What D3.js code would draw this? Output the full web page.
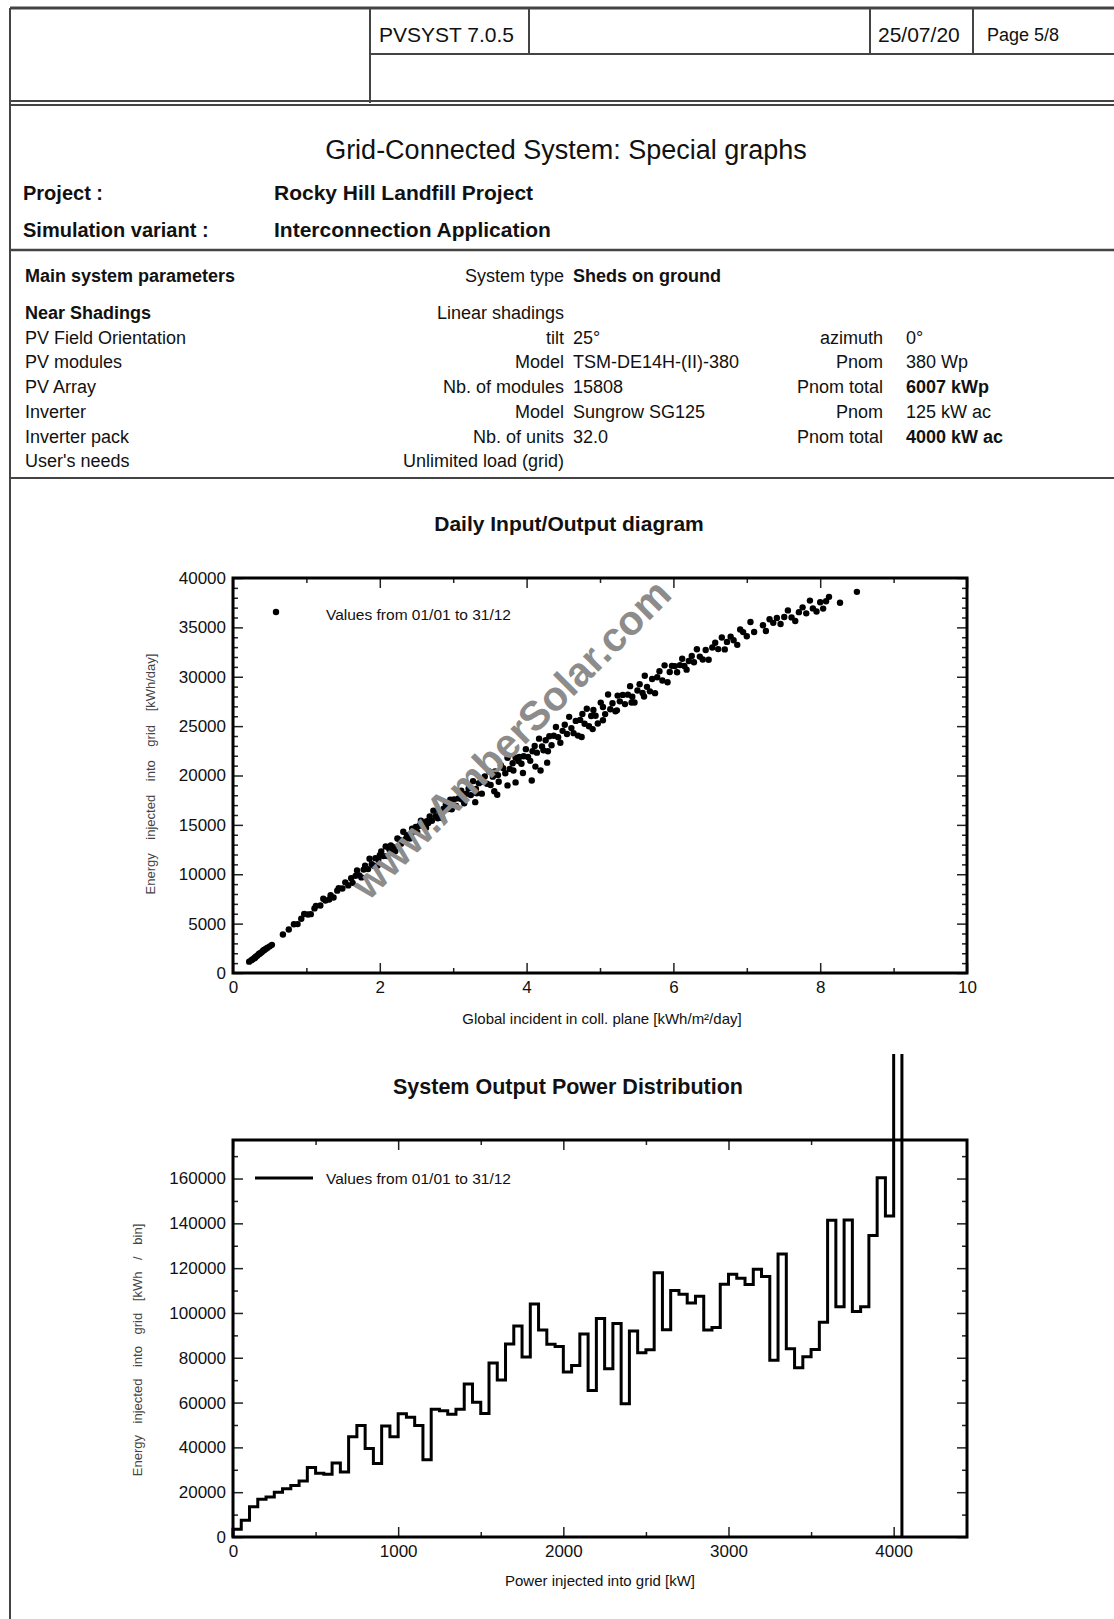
<!DOCTYPE html>
<html>
<head>
  <meta charset="utf-8">
  <title>PVsyst special graphs</title>
  <script src="https://d3js.org/d3.v7.min.js"></script>
  <style>
    body { margin: 0; background: #fff; }
    text { font-family: "Liberation Sans", Arial, sans-serif; fill: #111; }
  </style>
</head>
<body>
<script>
// ---- daily input/output : [global incident kWh/m2/day, energy injected kWh/day]
var dailyPoints = [
  [0.22,1150],[0.25,1300],[0.27,1400],[0.29,1500],[0.30,1550],[0.31,1650],[0.33,1750],[0.35,1900],
  [0.36,1950],[0.37,2000],[0.39,2100],[0.41,2250],[0.42,2300],[0.43,2350],[0.45,2450],[0.47,2550],
  [0.50,2700],[0.53,2850],[0.68,3900],[0.76,4400],
  [0.83,4930],[0.88,4950],[0.93,5500],[0.97,5970],[1.02,5930],[1.06,5960],[1.11,6540],[1.13,6800],
  [1.19,6840],[1.23,7520],[1.26,7330],[1.31,7440],[1.33,7870],[1.37,7640],[1.42,8340],[1.44,8590],
  [1.49,8560],[1.53,9180],[1.57,8870],
  [1.61,9600],[1.63,9130],[1.67,9840],[1.69,10380],[1.72,9890],[1.75,9680],[1.78,10470],[1.80,10870],
  [1.84,10520],[1.86,11570],[1.89,11030],[1.92,10860],[1.94,11630],[1.97,10890],[2.00,11920],[2.02,12310],
  [2.05,11840],[2.08,12810],[2.10,11840],[2.13,12530],[2.15,12920],[2.19,12740],[2.21,12340],[2.24,13620],
  [2.27,13470],[2.29,13100],[2.32,14310],[2.35,13560],[2.37,13950],[2.41,13620],[2.44,14620],[2.46,14340],
  [2.49,14780],[2.51,14290],[2.54,14910],[2.56,15430],[2.59,14910],[2.63,14720],[2.64,15370],[2.68,15860],
  [2.71,15410],[2.73,16440],[2.76,15870],[2.79,15670],[2.81,16410],[2.85,15700],[2.87,16640],[2.90,17080],
  [2.93,16600],[2.96,17550],[2.98,16580],
  [2.42,14000],[2.58,15200],[2.66,15200],[2.47,14500],[1.98,11500],[2.16,12200],
  [3.01,17580],[3.04,16905],[3.07,17682],[3.11,18465],[3.12,17580],[3.15,17180],[3.18,18155],[3.21,18690],
  [3.24,18015],[3.27,19430],[3.31,18640],[3.32,18195],[3.35,19225],[3.39,18160],[3.40,19365],[3.43,19900],
  [3.46,19170],[3.49,20420],[3.51,19031],[3.54,19884],[3.57,20407],[3.61,20041],[3.62,19372],[3.65,21050],
  [3.68,20748],[3.71,20226],[3.74,21794],[3.77,20667],[3.81,21236],[3.82,20512],[3.85,21805],[3.89,21439],
  [3.90,21870],[3.93,21183],[3.96,21948],[3.99,22669],[4.02,21880],[4.05,21480],[4.08,22455],[4.11,22990],
  [4.14,22315],[4.17,23730],[4.21,22940],[4.23,22545],[4.26,23575],[4.29,22460],
  [3.56,18400],[3.60,18050],[3.85,19300],[3.95,20250],[4.07,19500],[3.74,19000],[4.19,20500],[4.12,20900],
  [3.30,17300],[4.28,21300],
  [4.31,23970],[4.34,23070],[4.37,24018],[4.40,24910],[4.43,23870],[4.46,23320],[4.49,24520],[4.52,25140],
  [4.55,24210],[4.58,25940],[4.61,24800],[4.64,24290],[4.67,25530],[4.70,24040],[4.73,25630],[4.76,26240],
  [4.79,25240],[4.82,26760],[4.85,24990],[4.88,26020],[4.91,26630],[4.94,26050],[4.97,25260],[5.01,27380],
  [5.04,26940],[5.07,26220],[5.11,28200],[5.14,26710],[5.17,27320],[5.21,26500],[5.24,28090],[5.27,27510],
  [5.31,28160],[5.34,27230],[5.38,28188],[5.41,29050],[5.44,27980],[5.47,27400],[5.51,28614],[5.54,29236],
  [5.58,28362],[5.61,30104],[5.64,28976],[5.68,28522],[5.71,29774],[5.75,28340],[5.78,29942],[5.81,30564],
  [5.85,29620],[5.88,31152],[5.92,29438],[5.95,30480],[5.98,31102],
  [4.75,23900],[5.04,25600],[5.23,26600],[5.43,27400],[4.90,24700],[5.60,28000],
  [6.02,31080],[6.05,30450],[6.09,31180],[6.12,31830],[6.15,31100],[6.18,30720],[6.21,31590],[6.25,32100],
  [6.28,31470],[6.32,32780],[6.36,32040],[6.40,31750],[6.44,32710],[6.48,31720],[6.53,32960],[6.57,33450],
  [6.61,32800],[6.66,33980],[6.70,32770],[6.73,33530],[6.78,34060],[6.82,33700],[6.87,33230],[6.91,34780],
  [6.95,34520],[7.00,34100],[7.05,35540],[7.10,34530],[7.22,35220],[7.26,34630],[7.31,35820],[7.36,35460],
  [7.41,35950],[7.46,35340],[7.51,36050],[7.56,36720],[7.61,36010],[7.66,35650],[7.71,36540],[7.76,37030],
  [7.81,36420],[7.86,37710],[7.90,36920],[7.95,36610],[8.00,37550],[8.04,36900],[8.08,37640],[8.12,38090],
  [8.27,37500],[8.50,38600]
];
var scatterXTicks = [0, 2, 4, 6, 8, 10];
var scatterYTicks = [0, 5000, 10000, 15000, 20000, 25000, 30000, 35000, 40000];

// ---- output power distribution : energy per 50 kW bin [kWh / bin]
var binWidth = 50;
var energyPerBin = [
  3500, 7500, 13500, 16800, 17800, 20000, 21500, 23000, 25000, 31000,
  28500, 28000, 33000, 29000, 44700, 49800, 39500, 32800, 49600, 44800,
  55000, 53500, 49800, 34500, 57000, 56300, 54800, 57000, 68300, 60200,
  55100, 77700, 70100, 86200, 94200, 80300, 104000, 92400, 86000, 85000,
  73700, 76500, 90600, 65400, 97500, 75100, 95300, 59500, 92000, 82200,
  83600, 118000, 92500, 110000, 108300, 104500, 107500, 92400, 93500, 112800,
  117300, 115500, 112700, 119500, 116300, 78900, 126300, 84000, 75600, 80400,
  83700, 95900, 141400, 102800, 141500, 100700, 102800, 134600, 160300, 143300,
  1000000
];
var histXTicks = [0, 1000, 2000, 3000, 4000];
var histYTicks = [0, 20000, 40000, 60000, 80000, 100000, 120000, 140000, 160000];

var W = 1114, H = 1619;
var svg = d3.select("body").append("svg").attr("width", W).attr("height", H);

// ---------- page frame ----------
function line(x1, y1, x2, y2, w, c) {
  svg.append("line").attr("x1", x1).attr("y1", y1).attr("x2", x2).attr("y2", y2)
    .attr("stroke", c || "#444").attr("stroke-width", w);
}
line(10, 8, W, 8, 3);
line(10, 8, 10, H, 2);
line(370, 8, 370, 103, 2);
line(529, 8, 529, 54, 2);
line(870, 8, 870, 54, 2);
line(973, 8, 973, 54, 2);
line(370, 54, W, 54, 2);
line(10, 101, W, 101, 2);
line(10, 105, W, 105, 2);
line(10, 250, W, 250, 2.5);
line(10, 478, W, 478, 2);

function txt(x, y, s, size, opts) {
  opts = opts || {};
  return svg.append("text").attr("x", x).attr("y", y).text(s)
    .attr("font-size", size)
    .attr("font-weight", opts.bold ? "bold" : null)
    .attr("text-anchor", opts.anchor || "start");
}
txt(379, 42, "PVSYST 7.0.5", 21);
txt(878, 42, "25/07/20", 21);
txt(1023, 41, "Page 5/8", 18, {anchor: "middle"});

txt(566, 159, "Grid-Connected System: Special graphs", 27, {anchor: "middle"});
txt(23, 200, "Project :", 20, {bold: true});
txt(274, 200, "Rocky Hill Landfill Project", 21, {bold: true});
txt(23, 237, "Simulation variant :", 20, {bold: true});
txt(274, 237, "Interconnection Application", 21, {bold: true});

var paramRows = [
  {y: 282, a: "Main system parameters", ab: true, b: "System type", c: "Sheds on ground", cb: true},
  {y: 319, a: "Near Shadings", ab: true, b: "Linear shadings"},
  {y: 344, a: "PV Field Orientation", b: "tilt", c: "25°", d: "azimuth", e: "0°"},
  {y: 368, a: "PV modules", b: "Model", c: "TSM-DE14H-(II)-380", d: "Pnom", e: "380 Wp"},
  {y: 393, a: "PV Array", b: "Nb. of modules", c: "15808", d: "Pnom total", e: "6007 kWp", eb: true},
  {y: 418, a: "Inverter", b: "Model", c: "Sungrow SG125", d: "Pnom", e: "125 kW ac"},
  {y: 443, a: "Inverter pack", b: "Nb. of units", c: "32.0", d: "Pnom total", e: "4000 kW ac", eb: true},
  {y: 467, a: "User's needs", b: "Unlimited load (grid)"}
];
paramRows.forEach(function (r) {
  txt(25, r.y, r.a, 18, {bold: r.ab});
  txt(564, r.y, r.b, 18, {anchor: "end"});
  if (r.c) txt(573, r.y, r.c, 18, {bold: r.cb});
  if (r.d) txt(883, r.y, r.d, 18, {anchor: "end"});
  if (r.e) txt(906, r.y, r.e, 18, {bold: r.eb});
});

// ---------- generic framed axes ----------
function drawAxes(g, x, y, xMajor, xMinor, yMajor, yMinor, fmtY) {
  var x0 = x.range()[0], x1 = x.range()[1], y0 = y.range()[0], y1 = y.range()[1];
  var s = function (sel) {
    sel.select(".domain").remove();
    sel.selectAll("line").attr("stroke", "#222").attr("stroke-width", 1.5);
    sel.selectAll("text").attr("font-size", 17).attr("fill", "#111")
      .attr("font-family", "'Liberation Sans', Arial, sans-serif");
  };
  g.append("g").attr("transform", "translate(0," + y0 + ")")
    .call(d3.axisBottom(x).tickValues(xMinor).tickSize(-5).tickFormat("")).call(s);
  g.append("g").attr("transform", "translate(0," + y0 + ")")
    .call(d3.axisBottom(x).tickValues(xMajor).tickSize(-10).tickPadding(8).tickFormat(d3.format("d"))).call(s);
  g.append("g").attr("transform", "translate(0," + y1 + ")")
    .call(d3.axisTop(x).tickValues(xMinor).tickSize(-5).tickFormat("")).call(s);
  g.append("g").attr("transform", "translate(0," + y1 + ")")
    .call(d3.axisTop(x).tickValues(xMajor).tickSize(-10).tickFormat("")).call(s);
  g.append("g").attr("transform", "translate(" + x0 + ",0)")
    .call(d3.axisLeft(y).tickValues(yMinor).tickSize(-5).tickFormat("")).call(s);
  g.append("g").attr("transform", "translate(" + x0 + ",0)")
    .call(d3.axisLeft(y).tickValues(yMajor).tickSize(-10).tickPadding(7).tickFormat(fmtY)).call(s);
  g.append("g").attr("transform", "translate(" + x1 + ",0)")
    .call(d3.axisRight(y).tickValues(yMinor).tickSize(-5).tickFormat("")).call(s);
  g.append("g").attr("transform", "translate(" + x1 + ",0)")
    .call(d3.axisRight(y).tickValues(yMajor).tickSize(-10).tickFormat("")).call(s);
  g.append("rect").attr("x", x0).attr("y", y1).attr("width", x1 - x0).attr("height", y0 - y1)
    .attr("fill", "none").attr("stroke", "#000").attr("stroke-width", 3);
}

// ---------- Daily Input/Output diagram ----------
var sx = d3.scaleLinear().domain([0, 10]).range([233, 967]);
var sy = d3.scaleLinear().domain([0, 40000]).range([973, 578]);
var g1 = svg.append("g");
txt(569, 531, "Daily Input/Output diagram", 21, {anchor: "middle", bold: true});

g1.selectAll("circle.pt").data(dailyPoints).enter().append("circle")
  .attr("class", "pt")
  .attr("cx", function (d) { return sx(d[0]); })
  .attr("cy", function (d) { return sy(d[1]); })
  .attr("r", 3.2).attr("fill", "#000");

drawAxes(g1, sx, sy, scatterXTicks, [1, 3, 5, 7, 9], scatterYTicks,
  d3.range(1000, 40000, 1000).filter(function (v) { return v % 5000; }), d3.format("d"));

g1.append("circle").attr("cx", 276).attr("cy", 612).attr("r", 3.2).attr("fill", "#000");
txt(326, 620, "Values from 01/01 to 31/12", 15.5);
txt(602, 1024, "Global incident in coll. plane [kWh/m²/day]", 15, {anchor: "middle"});
svg.append("text").attr("transform", "translate(155,774) rotate(-90)")
  .attr("text-anchor", "middle").attr("font-size", 13).attr("word-spacing", 10)
  .style("fill", "#444").text("Energy injected into grid [kWh/day]");

// watermark
svg.append("text").attr("transform", "translate(521,749) rotate(-45)")
  .attr("text-anchor", "middle").attr("font-size", 41).attr("font-weight", "bold")
  .style("fill", "#8c8c8c").text("www.AmberSolar.com");

// ---------- System Output Power Distribution ----------
var hx = d3.scaleLinear().domain([0, 4444]).range([233, 967]);
var hy = d3.scaleLinear().domain([0, 177200]).range([1537, 1140]);
var g2 = svg.append("g");
txt(568, 1094, "System Output Power Distribution", 21.5, {anchor: "middle", bold: true});

svg.append("clipPath").attr("id", "histClip").append("rect")
  .attr("x", 225).attr("y", 1054).attr("width", 750).attr("height", 490);

var stepPts = [[0, 0]];
energyPerBin.forEach(function (v, i) {
  stepPts.push([i * binWidth, v]);
  stepPts.push([(i + 1) * binWidth, v]);
});
stepPts.push([energyPerBin.length * binWidth, 0]);

drawAxes(g2, hx, hy, histXTicks, [500, 1500, 2500, 3500], histYTicks,
  [10000, 30000, 50000, 70000, 90000, 110000, 130000, 150000, 170000], d3.format("d"));

g2.append("path").datum(stepPts)
  .attr("clip-path", "url(#histClip)")
  .attr("d", d3.line().x(function (d) { return hx(d[0]); }).y(function (d) { return hy(d[1]); }))
  .attr("fill", "none").attr("stroke", "#000").attr("stroke-width", 3)
  .attr("stroke-linejoin", "miter");

line(255, 1178, 313, 1178, 3, "#000");
txt(326, 1184, "Values from 01/01 to 31/12", 15.5);
txt(600, 1586, "Power injected into grid [kW]", 15, {anchor: "middle"});
svg.append("text").attr("transform", "translate(142,1350) rotate(-90)")
  .attr("text-anchor", "middle").attr("font-size", 13).attr("word-spacing", 8)
  .style("fill", "#444").text("Energy injected into grid [kWh / bin]");
</script>
</body>
</html>
